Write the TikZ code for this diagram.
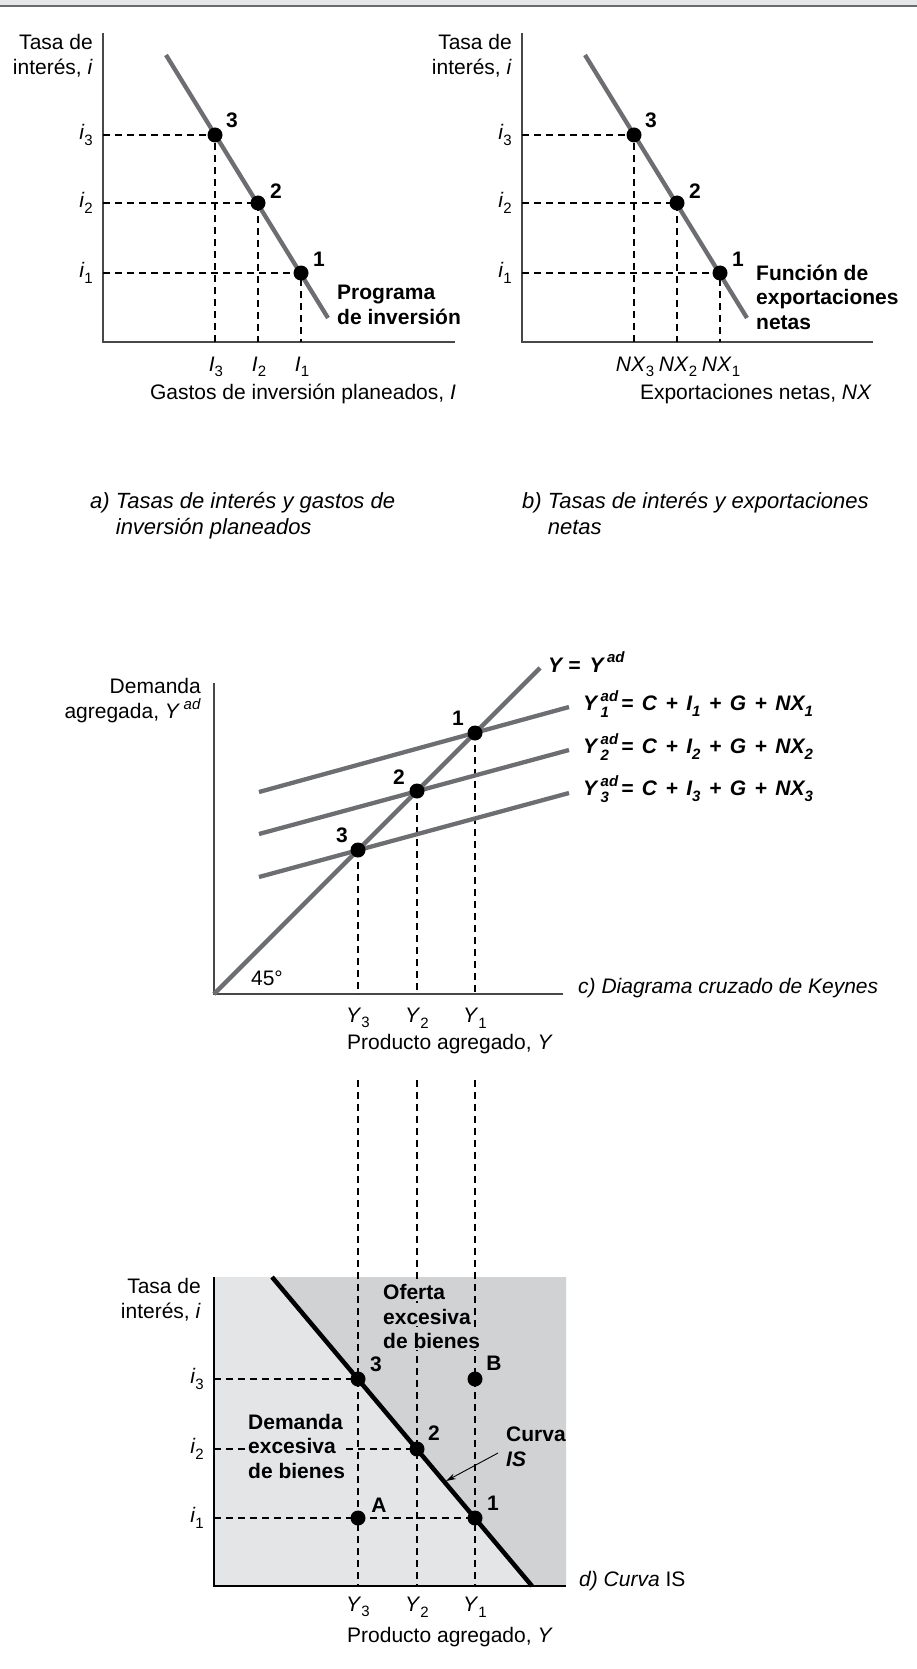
\documentclass[tikz,border=0pt]{standalone}
\usepackage{fontspec}
\setmainfont{Liberation Sans}
\usetikzlibrary{arrows.meta}
\definecolor{cgray}{HTML}{6D6E71}
\definecolor{agray}{HTML}{48484A}
\definecolor{lshade}{HTML}{E4E5E6}
\definecolor{dshade}{HTML}{D1D2D4}
\definecolor{barlight}{HTML}{E6E7E8}
\definecolor{bardark}{HTML}{6B6C6E}
\newcommand{\mylo}[1]{\raisebox{-0.5ex}{\fontsize{15}{15}\selectfont #1}}
\newcommand{\myhi}[1]{\raisebox{0.85ex}{\fontsize{15}{15}\selectfont #1}}
\newcommand{\myhilo}[2]{\rlap{\raisebox{-0.6ex}{\fontsize{15}{15}\selectfont #2}}\raisebox{0.85ex}{\fontsize{15}{15}\selectfont #1}}
\tikzset{
  axisline/.style={draw=agray, line width=1.5pt},
  axisblack/.style={draw=black, line width=2.2pt},
  curve/.style={draw=cgray, line width=4.3pt},
  isline/.style={draw=black, line width=4.5pt},
  dsh/.style={draw=black, line width=1.1pt, dash pattern=on 7pt off 5pt},
  dot/.style={circle, fill=black, inner sep=0pt, minimum size=15pt},
  txt/.style={inner sep=0pt, font=\fontsize{21}{25}\selectfont},
  btxt/.style={inner sep=0pt, font=\fontsize{21}{24.5}\selectfont\bfseries},
  bitxt/.style={inner sep=0pt, font=\fontsize{21}{25}\selectfont\bfseries\itshape},
  itxt/.style={inner sep=0pt, font=\fontsize{21}{26}\selectfont\itshape},
  captxt/.style={inner sep=0pt, font=\fontsize{22}{26}\selectfont\itshape},
}
\begin{document}
\begin{tikzpicture}[x=1pt,y=-1pt]
\path[use as bounding box, fill=white] (0,0) rectangle (917,1669);
% top bar
\fill[barlight] (0,0) rectangle (917,5);
\draw[bardark, line width=1.6pt] (0,5.8) -- (917,5.8);

%%%%%%%%%%%%%%%% PANEL A
\coordinate (aT) at (103,33);
\coordinate (aO) at (103,342);
\coordinate (aR) at (455,342);
\coordinate (pa3) at (215,135);
\coordinate (pa2) at (258,203);
\coordinate (pa1) at (301,273);
\coordinate (caS) at (166,55);
\coordinate (caE) at (328,318);
\draw[axisline] (aT) -- (aO) -- (aR);
\foreach \p in {pa3,pa2,pa1}{\draw[dsh] (aO |- \p) -- (\p) -- (\p |- aO);}
\draw[curve] (caS) -- (caE);
\node[dot] (da3) at (pa3) {};
\node[dot] (da2) at (pa2) {};
\node[dot] (da1) at (pa1) {};
\node[btxt] (na3) at (232,120) {3};
\node[btxt] (na2) at (276,191) {2};
\node[btxt] (na1) at (319,259) {1};
\node[txt, anchor=east] (ia3) at (93,135) {\textit{i}\mylo{3}};
\node[txt, anchor=east] (ia2) at (93,203) {\textit{i}\mylo{2}};
\node[txt, anchor=east] (ia1) at (93,273) {\textit{i}\mylo{1}};
\node[txt] (xa3) at (216,367) {\textit{I}\mylo{3}};
\node[txt] (xa2) at (259,367) {\textit{I}\mylo{2}};
\node[txt] (xa1) at (302,367) {\textit{I}\mylo{1}};
\node[txt, align=right, anchor=east] (ya) at (93,56) {Tasa de\\interés, \textit{i}};
\node[txt] (xla) at (303,394) {Gastos de inversión planeados, \textit{I}};
\node[btxt, align=left, anchor=west] (proga) at (337,305) {Programa\\de inversión};

%%%%%%%%%%%%%%%% PANEL B
\coordinate (bT) at (522,33);
\coordinate (bO) at (522,342);
\coordinate (bR) at (873,342);
\coordinate (pb3) at (634,135);
\coordinate (pb2) at (677,203);
\coordinate (pb1) at (720,273);
\coordinate (cbS) at (585,55);
\coordinate (cbE) at (747,318);
\draw[axisline] (bT) -- (bO) -- (bR);
\foreach \p in {pb3,pb2,pb1}{\draw[dsh] (bO |- \p) -- (\p) -- (\p |- bO);}
\draw[curve] (cbS) -- (cbE);
\node[dot] (db3) at (pb3) {};
\node[dot] (db2) at (pb2) {};
\node[dot] (db1) at (pb1) {};
\node[btxt] (nb3) at (651,120) {3};
\node[btxt] (nb2) at (695,191) {2};
\node[btxt] (nb1) at (738,259) {1};
\node[txt, anchor=east] (ib3) at (512,135) {\textit{i}\mylo{3}};
\node[txt, anchor=east] (ib2) at (512,203) {\textit{i}\mylo{2}};
\node[txt, anchor=east] (ib1) at (512,273) {\textit{i}\mylo{1}};
\node[txt] (xb3) at (635,367) {\textit{NX}\mylo{3}};
\node[txt] (xb2) at (678,367) {\textit{NX}\mylo{2}};
\node[txt] (xb1) at (721,367) {\textit{NX}\mylo{1}};
\node[txt, align=right, anchor=east] (yb) at (512,56) {Tasa de\\interés, \textit{i}};
\node[txt, anchor=east] (xlb) at (872,394) {Exportaciones netas, \textit{NX}};
\node[btxt, align=left, anchor=west] (funb) at (756,297) {Función de\\exportaciones\\netas};

% captions
\node[captxt, align=left, anchor=north west] (capa) at (90,492) {a) Tasas de interés y gastos de\\\phantom{a) }inversión planeados};
\node[captxt, align=left, anchor=north west] (capb) at (522,492) {b) Tasas de interés y exportaciones\\\phantom{b) }netas};

%%%%%%%%%%%%%%%% PANEL C
\coordinate (cT) at (214,683);
\coordinate (cO) at (214,994);
\coordinate (cR) at (563,994);
\coordinate (c45) at (540,668);
\coordinate (pc1) at (475,733);
\coordinate (pc2) at (417,791);
\coordinate (pc3) at (358,850);
\coordinate (l1S) at (259,792);
\coordinate (l1E) at (569,707);
\coordinate (l2S) at (259,834);
\coordinate (l2E) at (569,750);
\coordinate (l3S) at (259,877);
\coordinate (l3E) at (569,793);
\draw[axisline] (cT) -- (cO) -- (cR);
\foreach \p in {pc3,pc2,pc1}{\draw[dsh] (\p) -- (\p |- cO);}
\draw[curve] (cO) -- (c45);
\draw[curve] (l1S) -- (l1E);
\draw[curve] (l2S) -- (l2E);
\draw[curve] (l3S) -- (l3E);
\node[dot] (dc1) at (pc1) {};
\node[dot] (dc2) at (pc2) {};
\node[dot] (dc3) at (pc3) {};
\node[btxt] (nc1) at (458,718) {1};
\node[btxt] (nc2) at (399,777) {2};
\node[btxt] (nc3) at (342,835) {3};
\node[txt] (deg) at (267,978) {45°};
\node[txt, align=right, anchor=east] (yc) at (201,701) {Demanda\\agregada, \textit{Y}\,\myhi{\textit{ad}}};
\node[bitxt, anchor=west] (eq0) at (548,662) {Y = \,Y\,\myhi{ad}};
\node[bitxt, anchor=west] (eq1) at (583,704) {\spaceskip=8.5pt Y\,\myhilo{ad}{1}\hspace{3pt}= C + I\mylo{1} + G + NX\mylo{1}};
\node[bitxt, anchor=west] (eq2) at (583,747) {\spaceskip=8.5pt Y\,\myhilo{ad}{2}\hspace{3pt}= C + I\mylo{2} + G + NX\mylo{2}};
\node[bitxt, anchor=west] (eq3) at (583,789) {\spaceskip=8.5pt Y\,\myhilo{ad}{3}\hspace{3pt}= C + I\mylo{3} + G + NX\mylo{3}};
\node[txt] (xc3) at (358,1018) {\textit{Y}\mylo{3}};
\node[txt] (xc2) at (417,1018) {\textit{Y}\mylo{2}};
\node[txt] (xc1) at (475,1018) {\textit{Y}\mylo{1}};
\node[txt] (xlc) at (450,1044) {Producto agregado, \textit{Y}};
\node[itxt, anchor=west] (capc) at (578,988) {c) Diagrama cruzado de Keynes};

%%%%%%%%%%%%%%%% PANEL D
\coordinate (dT) at (214,1277);
\coordinate (dO) at (214,1586);
\coordinate (dR) at (566,1586);
\coordinate (dTR) at (566,1277);
\coordinate (isS) at (272,1277);
\coordinate (isE) at (532,1586);
\coordinate (pd3) at (358,1379);
\coordinate (pd2) at (417,1449);
\coordinate (pd1) at (475,1518);
\coordinate (pA) at (358,1518);
\coordinate (pB) at (475,1379);
\coordinate (vt3) at (358,1080);
\coordinate (vt2) at (417,1080);
\coordinate (vt1) at (475,1080);
\fill[lshade] (dT) rectangle (dR);
\fill[dshade] (isS) -- (dTR) -- (dR) -- (isE) -- cycle;
\foreach \p in {vt3,vt2,vt1}{\draw[dsh] (\p) -- (\p |- dO);}
\foreach \p in {pd3,pd2,pd1}{\draw[dsh] (dO |- \p) -- (\p);}
\node[btxt, align=left, anchor=west, fill=lshade, inner xsep=1pt] (dem) at (247,1446) {Demanda\\excesiva\\de bienes};
\node[btxt, anchor=west, fill=dshade, inner ysep=1pt] (of1) at (383,1292) {Oferta};
\node[btxt, anchor=west, fill=dshade, inner ysep=1pt] (of2) at (383,1317) {excesiva};
\node[btxt, anchor=west, fill=dshade, inner ysep=1pt] (of3) at (383,1341) {de bienes};
\draw[isline] (isS) -- (isE);
\draw[axisblack] (dT) -- (dO) -- (dR);
\node[dot] (dd3) at (pd3) {};
\node[dot] (dd2) at (pd2) {};
\node[dot] (dd1) at (pd1) {};
\node[dot] (dA) at (pA) {};
\node[dot] (dB) at (pB) {};
\node[btxt] (nd3) at (376,1364) {3};
\node[btxt] (nd2) at (434,1433) {2};
\node[btxt] (nd1) at (493,1503) {1};
\node[btxt] (nA) at (379,1505) {A};
\node[btxt] (nB) at (494,1363) {B};
\node[txt, anchor=east] (id3) at (204,1379) {\textit{i}\mylo{3}};
\node[txt, anchor=east] (id2) at (204,1449) {\textit{i}\mylo{2}};
\node[txt, anchor=east] (id1) at (204,1518) {\textit{i}\mylo{1}};
\node[txt, align=right, anchor=east] (yd) at (201,1300) {Tasa de\\interés, \textit{i}};
\node[btxt, align=left, anchor=west] (curva) at (506,1447) {Curva\\\textit{IS}};
\coordinate (arrS) at (498,1453);
\coordinate (arrE) at (446,1481);
\draw[line width=0.9pt, -{Stealth[length=10pt,width=6pt]}] (arrS) -- (arrE);
\node[txt] (xd3) at (358,1607) {\textit{Y}\mylo{3}};
\node[txt] (xd2) at (417,1607) {\textit{Y}\mylo{2}};
\node[txt] (xd1) at (475,1607) {\textit{Y}\mylo{1}};
\node[txt] (xld) at (450,1637) {Producto agregado, \textit{Y}};
\node[txt, anchor=west] (capd) at (579,1581) {\textit{d) Curva} IS};
\end{tikzpicture}
\end{document}
